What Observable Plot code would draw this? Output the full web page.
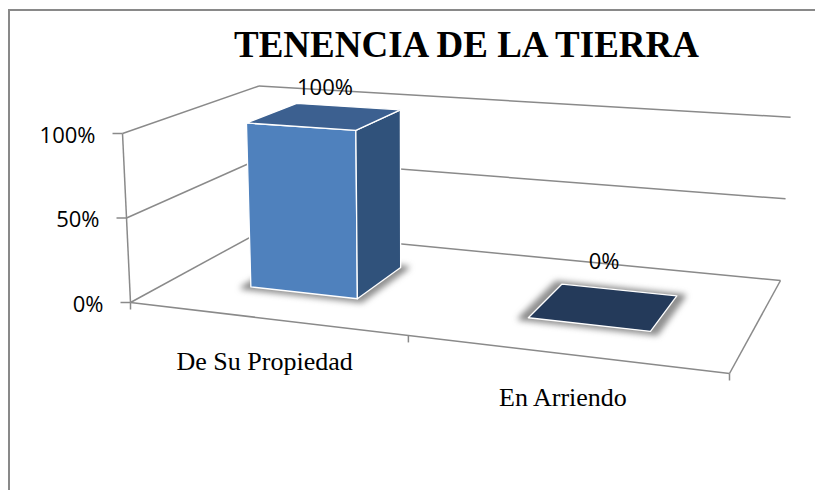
<!DOCTYPE html>
<html>
<head>
<meta charset="utf-8">
<script src="https://cdn.jsdelivr.net/npm/d3@7"></script>
<script src="https://cdn.jsdelivr.net/npm/@observablehq/plot@0.6"></script>
<style>
  html, body { margin: 0; padding: 0; background: #fff; }
  #wrap { position: relative; width: 815px; height: 490px; overflow: hidden; }
  #frame { position: absolute; left: 8px; top: 9px; width: 1000px; height: 1000px;
           border-left: 2px solid #898989; border-top: 2px solid #898989; }
  #title { position: absolute; left: 118px; width: 697px; top: 26px; text-align: center;
           font-family: "Liberation Serif", "Times New Roman", serif; font-weight: bold;
           font-size: 37px; line-height: 37px; color: #000; white-space: nowrap; }
  #chart { position: absolute; left: 0; top: 0; }
  .shadow-blur { filter: blur(3px); }
</style>
</head>
<body>
<div id="wrap">
  <div id="frame"></div>
  <div id="chart"></div>
  <div id="title">TENENCIA DE LA TIERRA</div>
</div>
<script>
// ---------- data ----------
const categories = ["De Su Propiedad", "En Arriendo"];
const values = [1.0, 0.0];
const valueLabels = ["100%", "0%"];
const yTicks = [0, 0.5, 1];
const yTickLabels = ["0%", "50%", "100%"];

// ---------- 3D perspective layout (calibration of the plot box) ----------
const floorQuad = [[130, 302], [729, 373], [780, 280], [262, 230]]; // front-left, front-right, back-right, back-left
const fullHeight = 169;          // pixel height of 100% at front-left corner
const vanish = [411, 6253];      // vertical vanishing point
const barHalfWidth = 0.1;        // gap width 150%
const barDepth = [0.3, 0.7];

const [[x0, y0], [x1, y1], [x2, y2], [x3, y3]] = floorQuad;
const dx1 = x1 - x2, dx2 = x3 - x2, dx3 = x0 - x1 + x2 - x3;
const dy1 = y1 - y2, dy2 = y3 - y2, dy3 = y0 - y1 + y2 - y3;
const D = dx1 * dy2 - dx2 * dy1;
const G = (dx3 * dy2 - dx2 * dy3) / D, Hh = (dx1 * dy3 - dx3 * dy1) / D;
const A = x1 - x0 + G * x1, B = x3 - x0 + Hh * x3, C = x0;
const Dd = y1 - y0 + G * y1, E = y3 - y0 + Hh * y3, F = y0;

function proj(u, v, w) {
  const den = G * u + Hh * v + 1;
  const fx = (A * u + B * v + C) / den, fy = (Dd * u + E * v + F) / den;
  const ht = w * fullHeight / den;
  const dx = -ht * (fx - vanish[0]) / (fy - vanish[1]);
  return [fx + dx, fy - ht];
}

const n = categories.length;
const catU = (i) => (i + 0.5) / n;

// ---------- geometry derived from data ----------
const grid = [];
for (const w of yTicks) {
  const a = proj(0, 0, w), b = proj(0, 1, w), c = proj(1, 1, w);
  grid.push({x1: a[0], y1: a[1], x2: b[0], y2: b[1]});
  grid.push({x1: b[0], y1: b[1], x2: c[0], y2: c[1]});
}
const edges = [];
{
  const fl = proj(0, 0, 0), fr = proj(1, 0, 0), br = proj(1, 1, 0), ft = proj(0, 0, d3.max(yTicks));
  edges.push({x1: fl[0], y1: fl[1], x2: fr[0], y2: fr[1]});
  edges.push({x1: fr[0], y1: fr[1], x2: br[0], y2: br[1]});
  edges.push({x1: fl[0], y1: fl[1], x2: ft[0], y2: ft[1]});
}
const yTickData = yTicks.map((w, i) => { const p = proj(0, 0, w); return {x: p[0], y: p[1], label: yTickLabels[i]}; });
const xTickData = d3.range(n + 1).map(i => { const p = proj(i / n, 0, 0); return {x: p[0], y: p[1]}; });
const catLabelData = categories.map((c, i) => { const p = proj(catU(i), 0, 0); return {x: p[0], y: p[1], label: c}; });

const faces = [];   // {id, kind, x, y}
const shadows = [];
function addPoly(arr, id, kind, pts) {
  pts.concat([pts[0]]).forEach(p => arr.push({id, kind, x: p[0], y: p[1]}));
}
values.forEach((val, i) => {
  const u0 = catU(i) - barHalfWidth, u1 = catU(i) + barHalfWidth;
  const [v0, v1] = barDepth;
  const s = 0.012;
  addPoly(shadows, "s" + i, "shadow", [proj(u0 - s, v0 - 0.02, 0), proj(u1 + s, v0 - 0.02, 0), proj(u1 + s, v1 + 0.01, 0), proj(u0 - s, v1 + 0.01, 0)]);
  if (val > 0) {
    addPoly(faces, "f" + i, "front", [proj(u0, v0, 0), proj(u1, v0, 0), proj(u1, v0, val), proj(u0, v0, val)]);
    addPoly(faces, "r" + i, "side", [proj(u1, v0, 0), proj(u1, v1, 0), proj(u1, v1, val), proj(u1, v0, val)]);
    addPoly(faces, "t" + i, "top", [proj(u0, v0, val), proj(u1, v0, val), proj(u1, v1, val), proj(u0, v1, val)]);
  } else {
    addPoly(faces, "t" + i, "flat", [proj(u0, v0, val), proj(u1, v0, val), proj(u1, v1, val), proj(u0, v1, val)]);
  }
});
const valueLabelData = values.map((val, i) => {
  const c = proj(catU(i), 0.5, val), b = proj(catU(i), 1, val);
  return {x: c[0], y: b[1], label: valueLabels[i]};
});

const faceColors = {front: "#4f81bd", side: "#30527b", top: "#3c6090", flat: "#243a5a"};
const gridColor = "#8a8a8a";
const sans = "'Open Sans', sans-serif";
const serif = "'Liberation Serif', 'Times New Roman', serif";

const plot = Plot.plot({
  width: 815, height: 490, margin: 0,
  x: {domain: [0, 815], range: [0, 815], axis: null},
  y: {domain: [0, 490], range: [0, 490], axis: null},
  marks: [
    Plot.link(grid, {x1: "x1", y1: "y1", x2: "x2", y2: "y2", stroke: gridColor, strokeWidth: 1.5}),
    Plot.link(edges, {x1: "x1", y1: "y1", x2: "x2", y2: "y2", stroke: gridColor, strokeWidth: 1.5}),
    Plot.link(yTickData, {x1: "x", y1: "y", x2: d => d.x - 10, y2: "y", stroke: gridColor, strokeWidth: 1.5}),
    Plot.link(xTickData, {x1: "x", y1: "y", x2: "x", y2: d => d.y + 7, stroke: gridColor, strokeWidth: 1.5}),
    Plot.line(shadows, {x: "x", y: "y", z: "id", fill: "#4d4d4d", fillOpacity: 0.6, stroke: "#4d4d4d", strokeOpacity: 0.6, strokeWidth: 3}),
    Plot.line(faces, {x: "x", y: "y", z: "id", fill: "kind", stroke: "#ffffff", strokeWidth: 1.3, strokeLinejoin: "round"}),
    Plot.text(yTickData, {x: d => d.x - 27, y: "y", text: "label", textAnchor: "end", fontFamily: sans, fontSize: 22, fill: "#000", dy: 2}),
    Plot.text(valueLabelData, {x: "x", y: "y", text: "label", fontFamily: sans, fontSize: 22, fill: "#000", dy: -5}),
    Plot.text(catLabelData, {x: "x", y: "y", text: "label", fontFamily: serif, fontSize: 26, fill: "#000", lineAnchor: "bottom", dy: 52})
  ],
  color: {domain: Object.keys(faceColors), range: Object.values(faceColors)}
});
document.getElementById("chart").appendChild(plot);

// soft blur for the shadow mark (the one filled with the shadow grey)
d3.select(plot).selectAll("path").filter(function () {
  return this.parentNode && this.parentNode.getAttribute("fill") === "#4d4d4d";
}).each(function () { this.parentNode.setAttribute("class", "shadow-blur"); });
d3.select(plot).selectAll("g").filter(function () { return this.getAttribute("fill") === "#4d4d4d"; })
  .attr("class", "shadow-blur").style("filter", "blur(3px)");
</script>
</body>
</html>
